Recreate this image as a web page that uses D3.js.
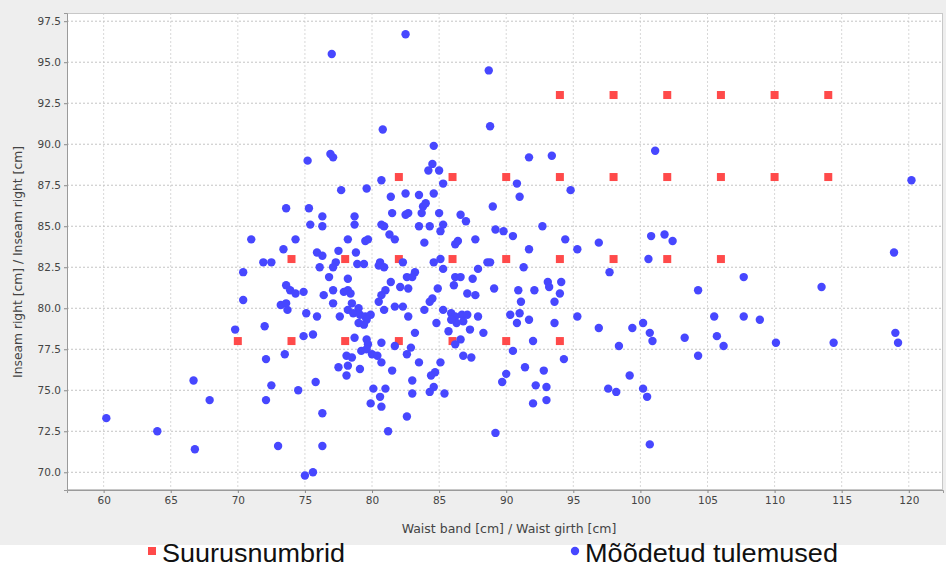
<!DOCTYPE html>
<html><head><meta charset="utf-8">
<script src="https://cdn.jsdelivr.net/npm/d3@7"></script>
<style>
html,body{margin:0;padding:0;background:#fff;}
svg{display:block;}
</style></head>
<body>
<script>
// Size grid (red squares)
const sizeWaist  = [70,74,78,82,86,90,94, 74,78,82,86,90,94,98,102,106, 82,86,90,94,98,102,106,110,114, 94,98,102,106,110,114];
const sizeInseam = [78,78,78,78,78,78,78, 83,83,83,83,83,83,83,83,83, 88,88,88,88,88,88,88,88,88, 93,93,93,93,93,93];

// Measured results (blue dots)
const measWaist = [
73.6,71.0,74.3,73.4,71.9,72.5,70.4,73.6,73.9,74.3,70.4,73.2,73.6,73.7,69.8,72.0,73.5,72.1,66.7,72.5,74.5,67.9,72.1,66.8,73.0,60.2,64.0,
77.0,82.5,
80.8,75.2,76.9,77.1,80.7,77.7,79.6,81.4,75.3,76.3,78.7,75.4,76.3,78.7,80.7,80.9,81.3,78.2,79.5,79.7,75.9,76.3,77.5,78.8,77.3,77.1,76.1,78.9,79.4,80.6,80.5,80.9,76.8,78.2,81.4,74.9,77.1,77.9,78.2,78.4,76.4,81.0,80.7,
77.1,78.5,79.0,80.5,75.1,75.9,77.6,78.2,78.6,79.1,79.5,79.9,79.6,80.9,79.0,79.4,74.9,75.6,78.7,79.6,79.7,80.7,79.2,79.6,80.0,80.4,80.7,78.1,78.5,77.5,78.2,79.1,78.1,75.8,80.1,81.0,80.6,79.9,80.7,76.3,81.2,76.3,75.0,75.6,
84.6,84.5,84.2,85.0,85.3,82.5,83.5,84.6,
81.5,82.5,82.7,83.8,84.0,83.7,85.0,86.6,87.0,83.5,84.3,85.3,85.1,81.7,83.9,86.2,86.4,87.7,82.3,84.6,85.1,85.3,83.2,82.6,83.0,86.2,86.6,87.5,87.9,82.1,82.7,84.9,86.1,87.1,87.7,84.5,84.3,81.7,82.3,83.9,85.3,85.9,86.2,86.7,87.1,82.7,84.8,86.3,86.8,85.9,87.9,
83.2,81.7,82.9,82.6,83.5,81.5,85.1,85.7,87.3,86.6,86.2,86.8,87.4,84.7,84.4,83.0,84.6,84.3,83.0,85.4,82.6,
88.7,88.8,91.7,93.4,90.8,91.0,94.8,89.0,89.2,89.8,90.5,92.7,94.4,91.7,95.3,88.6,88.8,91.3,
89.1,90.9,92.1,93.1,93.2,94.1,94.0,93.6,91.1,90.3,91.0,90.8,91.7,93.6,95.3,88.3,92.0,90.5,94.3,91.4,92.8,90.0,89.7,92.2,93.0,92.0,93.0,89.2,
101.1,100.8,101.8,102.4,96.9,100.6,97.7,107.7,104.3,96.9,99.4,100.2,100.7,100.9,98.4,105.5,107.7,108.9,105.7,106.2,103.3,104.3,99.2,97.6,98.2,100.2,100.5,100.7,
120.2,118.9,113.5,110.1,114.4,119.0,119.2
];
const measInseam = [
86.1,84.2,84.2,83.6,82.8,82.8,82.2,81.4,81.1,80.9,80.5,80.2,80.3,79.9,78.7,78.9,77.2,76.9,75.6,75.3,75.0,74.4,74.4,71.4,71.6,73.3,72.5,
95.5,96.7,
90.9,89.0,89.4,89.2,87.8,87.2,87.3,86.8,86.1,85.6,85.6,85.1,85.0,85.1,85.1,85.0,84.5,84.2,84.1,84.2,83.4,83.2,83.5,83.4,82.8,82.5,82.5,82.7,82.7,82.8,82.6,82.5,81.9,81.8,81.6,81.0,81.1,81.0,81.1,80.9,80.8,81.1,80.8,
80.3,80.3,80.0,80.4,79.7,79.5,79.5,79.9,79.7,79.6,79.5,79.6,79.3,79.9,79.1,79.0,78.3,78.4,78.2,78.1,77.8,77.9,77.4,77.5,77.2,77.1,76.7,77.1,77.0,76.4,76.5,76.3,75.9,75.5,75.1,75.1,74.6,74.2,74.0,73.6,72.5,71.6,69.8,70.0,
89.9,88.8,88.4,88.4,87.6,87.0,86.9,87.0,
85.8,85.7,85.8,86.2,86.4,85.8,85.8,85.7,85.3,85.0,85.0,85.1,84.7,84.2,84.0,83.9,84.1,84.2,82.8,82.8,83.0,82.4,82.2,81.9,81.9,81.9,81.9,81.8,82.4,81.3,81.2,81.2,81.4,80.9,80.8,80.6,80.4,80.1,80.1,79.9,79.9,79.7,79.5,79.6,79.6,79.5,79.1,79.1,79.2,79.3,79.5,
78.5,77.7,77.6,77.2,76.7,76.2,76.7,78.6,78.7,78.1,77.8,77.1,77.0,76.1,75.9,75.6,75.2,74.9,74.8,74.8,73.4,
94.5,91.1,89.2,89.3,87.6,86.8,87.2,86.2,84.8,84.7,84.4,85.0,84.2,83.6,83.6,82.8,82.8,82.5,
81.2,81.1,81.1,81.6,81.3,81.6,80.9,80.4,80.4,79.6,79.7,79.1,79.3,79.1,79.5,78.5,78.0,77.4,76.9,76.4,76.2,76.0,75.5,75.3,75.2,74.2,74.4,72.4,
89.6,84.4,84.5,84.1,84.0,83.0,82.2,81.9,81.1,78.8,78.8,79.1,78.5,78.0,77.7,79.5,79.5,79.3,78.3,77.7,78.2,77.1,75.9,75.1,74.9,75.1,74.6,71.7,
87.8,83.4,81.3,77.9,77.9,78.5,77.9
];

const xTicks = [60,65,70,75,80,85,90,95,100,105,110,115,120];
const yTicks = [70.0,72.5,75.0,77.5,80.0,82.5,85.0,87.5,90.0,92.5,95.0,97.5];
const xDomain = [57.27, 122.55];
const yDomain = [68.92, 98.0];
const xTitle = "Waist band [cm] / Waist girth [cm]";
const yTitle = "Inseam right [cm] / Inseam right [cm]";
const legendLabels = ["Suurusnumbrid", "Mõõdetud tulemused"];
const colors = ["#ff4a4a", "#4747ff"];

const W = 946, H = 568;
const plot = {l: 67, t: 13, r: 943, b: 490};

const svg = d3.select("body").append("svg").attr("width", W).attr("height", H);
// outer chart background
svg.append("rect").attr("x",0).attr("y",0).attr("width",W).attr("height",545).attr("fill","#eeeeee");

const x = d3.scaleLinear().domain(xDomain).range([plot.l, plot.r]);
const y = d3.scaleLinear().domain(yDomain).range([plot.b, plot.t]);

svg.append("rect").attr("x",plot.l).attr("y",plot.t).attr("width",plot.r-plot.l).attr("height",plot.b-plot.t)
  .attr("fill","#ffffff");

// gridlines
const g = svg.append("g");
g.selectAll("line.vg").data(xTicks).join("line").attr("class","vg")
  .attr("x1",d=>x(d)).attr("x2",d=>x(d)).attr("y1",plot.t).attr("y2",plot.b)
  .attr("stroke","#d8d8d8").attr("stroke-width",1).attr("stroke-dasharray","2,2");
g.selectAll("line.hg").data(yTicks).join("line").attr("class","hg")
  .attr("x1",plot.l).attr("x2",plot.r).attr("y1",d=>y(d)).attr("y2",d=>y(d))
  .attr("stroke","#c4c4c4").attr("stroke-width",1).attr("stroke-dasharray","2,2");

// plot outline
svg.append("rect").attr("x",plot.l+0.5).attr("y",plot.t+0.5).attr("width",plot.r-plot.l-1).attr("height",plot.b-plot.t-1)
  .attr("fill","none").attr("stroke","#c8c8c8");

// axes
const fmt = d3.format(".1f");
const xAxis = svg.append("g").attr("transform",`translate(0,${plot.b})`)
  .call(d3.axisBottom(x).tickValues(xTicks).tickSize(3).tickPadding(4).tickFormat(d3.format("d")));
const yAxis = svg.append("g").attr("transform",`translate(${plot.l},0)`)
  .call(d3.axisLeft(y).tickValues(yTicks).tickSize(3).tickPadding(3).tickFormat(fmt));
[xAxis,yAxis].forEach(a=>{
  a.select(".domain").attr("stroke","#9a9a9a");
  a.selectAll(".tick line").attr("stroke","#888");
  a.selectAll(".tick text").attr("fill","#444").attr("font-family","DejaVu Sans, sans-serif").attr("font-size",10.5);
});

svg.append("text").attr("x",509).attr("y",533).attr("text-anchor","middle")
  .attr("font-family","DejaVu Sans, sans-serif").attr("font-size",12.5).attr("fill","#444").text(xTitle);
svg.append("text").attr("transform",`translate(22,262) rotate(-90)`).attr("text-anchor","middle")
  .attr("font-family","DejaVu Sans, sans-serif").attr("font-size",12.3).attr("fill","#444").text(yTitle);

// data
const sizes = sizeWaist.map((w,i)=>({w, h:sizeInseam[i]}));
const meas = measWaist.map((w,i)=>({w, h:measInseam[i]}));
const s = 8;
svg.append("g").selectAll("rect").data(sizes).join("rect")
  .attr("x",d=>x(d.w)-s/2).attr("y",d=>y(d.h)-s/2).attr("width",s).attr("height",s).attr("fill",colors[0]);
svg.append("g").selectAll("circle").data(meas).join("circle")
  .attr("cx",d=>x(d.w)).attr("cy",d=>y(d.h)).attr("r",4.2).attr("fill",colors[1]);

// legend
const leg = svg.append("g");
leg.append("rect").attr("x",148).attr("y",547).attr("width",8).attr("height",8).attr("fill",colors[0]);
leg.append("text").attr("x",162).attr("y",562).attr("font-family","Liberation Sans, Arial, sans-serif").attr("font-size",26)
  .attr("textLength",183).attr("lengthAdjust","spacingAndGlyphs")
  .attr("fill","#111").text(legendLabels[0]);
leg.append("circle").attr("cx",575).attr("cy",551).attr("r",4.2).attr("fill",colors[1]);
leg.append("text").attr("x",585).attr("y",562).attr("font-family","Liberation Sans, Arial, sans-serif").attr("font-size",26)
  .attr("textLength",253).attr("lengthAdjust","spacingAndGlyphs")
  .attr("fill","#111").text(legendLabels[1]);
</script>
</body></html>
